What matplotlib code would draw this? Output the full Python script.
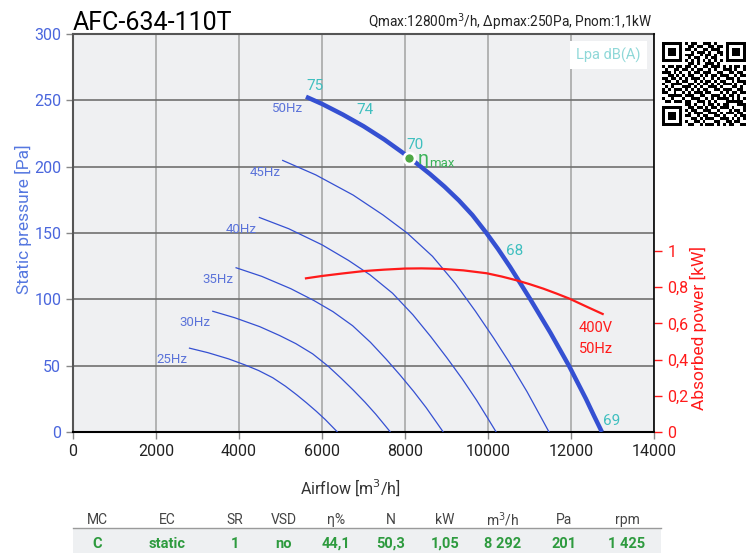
import numpy as np
import matplotlib
matplotlib.use('Agg')
import matplotlib.pyplot as plt
from matplotlib import font_manager

# fuente: Roboto si existe
nombres = {f.name for f in font_manager.fontManager.ttflist}
fuente = 'Roboto' if 'Roboto' in nombres else 'DejaVu Sans'
plt.rcParams['font.family'] = [fuente, 'DejaVu Sans']

# Curvas de presion estatica por frecuencia [m3/h], [Pa]
q50 = [5614, 6000, 6500, 7000, 7500, 8000, 8300, 8600, 8950, 9300, 9625, 9950,
       10240, 10530, 10775, 11020, 11260, 11500, 11725, 11950, 12155, 12360, 12550, 12745]
p50 = [252.7, 247.3, 239.3, 230.5, 220.5, 209.3, 202, 194.5, 185, 174.5, 163.5, 150.5,
       138, 124.5, 112.3, 100, 87.5, 75, 62.5, 50, 37.5, 25, 12.5, 0]
q45 = [5053, 5850, 6750, 7470, 8055, 8663, 9216, 9698, 10134, 10553, 10940, 11295, 11470]
p45 = [204.7, 193.8, 178.6, 163.6, 149.9, 132.4, 111.8, 91, 70.9, 50.6, 30.4, 10.1, 0]
q40 = [4491, 5200, 6000, 6640, 7160, 7700, 8192, 8620, 9008, 9380, 9724, 10040, 10196]
p40 = [161.7, 153.2, 141.1, 129.3, 118.4, 104.6, 88.3, 71.9, 56, 40, 24, 8, 0]
q35 = [3930, 4550, 5250, 5810, 6265, 6738, 7168, 7543, 7882, 8208, 8509, 8785, 8921]
p35 = [123.8, 117.3, 108, 99, 90.7, 80.1, 67.6, 55, 42.9, 30.6, 18.4, 6.1, 0]
q30 = [3368, 3900, 4500, 4980, 5370, 5775, 6144, 6465, 6756, 7035, 7293, 7530, 7647]
p30 = [91, 86.1, 79.4, 72.7, 66.6, 58.9, 49.7, 40.4, 31.5, 22.5, 13.5, 4.5, 0]
q25 = [2807, 3250, 3750, 4150, 4475, 4813, 5120, 5388, 5630, 5863, 6078, 6275, 6372]
p25 = [63.2, 59.8, 55.1, 50.5, 46.3, 40.9, 34.5, 28.1, 21.9, 15.6, 9.4, 3.1, 0]
curvas = [(q45, p45), (q40, p40), (q35, p35), (q30, p30), (q25, p25)]

# Posicion de las etiquetas de frecuencia
hz_q = [5181, 4634, 4048, 3494, 2940, 2386]
hz_p = [243.5, 195.6, 153, 114.6, 82.5, 54.3]
hz_txt = ['50Hz', '45Hz', '40Hz', '35Hz', '30Hz', '25Hz']

# Potencia absorbida [kW]
q_pot = [5614, 6000, 6500, 7000, 7500, 8000, 8400, 8843, 9405, 9968, 10330, 10690,
         11000, 11333, 11650, 11960, 12400, 12763]
pot = [0.849, 0.862, 0.876, 0.889, 0.897, 0.903, 0.904, 0.902, 0.893, 0.877, 0.859, 0.838,
       0.817, 0.792, 0.765, 0.737, 0.69, 0.652]

# Nivel sonoro Lpa
lpa_q = [5831, 7036, 8253, 10643, 12988]
lpa_p = [260.8, 242.7, 216.7, 136.4, 8.3]
lpa_txt = ['75', '74', '70', '68', '69']

# Punto de maxima eficiencia
eta_q, eta_p = 8104, 206.5

# Tabla inferior
cab = ['MC', 'EC', 'SR', 'VSD', 'η%', 'N', 'kW', 'm$^3$/h', 'Pa', 'rpm']
val = ['C', 'static', '1', 'no', '44,1', '50,3', '1,05', '8 292', '201', '1 425']
col_x = [97, 167, 235, 284, 336, 391, 445, 503, 564, 627]

# QR (patron decorativo)
qr = [
    "11111110101100111010001111111",
    "10000010011011001101101000001",
    "10111010110100110111001011101",
    "10111010001011101001101011101",
    "10111010111001011010101011101",
    "10000010010110010110001000001",
    "11111110101010101010101111111",
    "00000000011010011101000000000",
    "10110110110100110111010101101",
    "01001101101011001010011101001",
    "11101010010110111001100110110",
    "00110101011001010110111001011",
    "11011010101110100101001110100",
    "01100101100101011010110010111",
    "10011110011010110101011101001",
    "01010001110101001110100011010",
    "10101110101010110011011100110",
    "11001001010111011000101011011",
    "00111110111001100111010110100",
    "10010001001110010101111010101",
    "01101110110011101010001111110",
    "00000000110100101101011000111",
    "11111110011011010110111010001",
    "10000010101100111001000101101",
    "10111010010111001110101110110",
    "10111010110010110011010001011",
    "10111010001101011100111010101",
    "10000010100110100011001101100",
    "11111110011001011101010110011",
]

AZUL = '#3550d2'
AZUL_T = '#5b73d9'
ROJO = '#ff1a1a'
TEAL = '#3fbfbf'
VERDE = '#2e9b3f'

fig = plt.figure(figsize=(7.55, 5.53), dpi=100)
W, H = 755, 553
ax = fig.add_axes([73 / W, 1 - 432 / H, (654 - 73) / W, (432 - 34) / H])
ax.set_facecolor('#eff0f2')
ax.set_xlim(0, 14000)
ax.set_ylim(0, 300)
ax.set_xticks(np.arange(0, 14001, 2000))
ax.set_yticks(np.arange(0, 301, 50))
ax.xaxis.grid(True, color='#a8a8a8', lw=1.2)
ax.yaxis.grid(True, color='#707070', lw=1.2)
ax.set_axisbelow(True)
for s in ['top', 'left']:
    ax.spines[s].set_color('#555555')
    ax.spines[s].set_linewidth(1.5)
ax.spines['bottom'].set_color('black')
ax.spines['bottom'].set_linewidth(1.5)
ax.spines['right'].set_visible(False)
ax.tick_params(axis='y', colors='#888888', labelcolor='#4a66dd', labelsize=11.5,
               length=5, width=1)
ax.tick_params(axis='x', colors='#888888', labelcolor='#222222', labelsize=11.5,
               length=5, width=1)

ax.plot(q50, p50, color=AZUL, lw=3.2, solid_capstyle='butt', zorder=4)
for q, p in curvas:
    ax.plot(q, p, color=AZUL, lw=0.9, zorder=3)

for q, p, t in zip(hz_q, hz_p, hz_txt):
    ax.text(q, p, t, color=AZUL_T, fontsize=9.5, ha='center', va='center')
for q, p, t in zip(lpa_q, lpa_p, lpa_txt):
    ax.text(q, p, t, color=TEAL, fontsize=11, ha='center', va='center')

ax.plot([eta_q], [eta_p], 'o', ms=8, mfc='#4fa845', mec='white', mew=2, zorder=6)
ax.text(8310, 205.5, 'η', color='#3cb35a', fontsize=14, ha='left', va='center', zorder=6)
ax.text(8580, 202.5, 'max', color='#3cb35a', fontsize=9.5, ha='left', va='center', zorder=6)

# caja Lpa
ax.text(0.922, 0.947, 'Lpa dB(A)', transform=ax.transAxes, color='#8fd8d8',
        fontsize=10.5, ha='center', va='center',
        bbox=dict(boxstyle='square,pad=0.45', fc='white', ec='none'))

ax.set_ylabel('Static pressure [Pa]', color='#5577e0', fontsize=12.5)
ax.yaxis.set_label_coords(-0.07, 0.535)
ax.set_xlabel('Airflow [m$^3$/h]', color='#333333', fontsize=11.5)
ax.xaxis.set_label_coords(0.478, -0.115)

ax2 = ax.twinx()
ax2.set_ylim(0, 398 / 181)
ax2.set_yticks([0, 0.2, 0.4, 0.6, 0.8, 1.0])
ax2.set_yticklabels(['0', '0,2', '0,4', '0,6', '0,8', '1'])
ax2.tick_params(axis='y', colors=ROJO, labelcolor=ROJO, labelsize=11.5, length=6, width=1)
ax2.spines['right'].set_color('black')
ax2.spines['right'].set_linewidth(1.2)
for s in ['top', 'left', 'bottom']:
    ax2.spines[s].set_visible(False)
ax2.plot(q_pot, pot, color=ROJO, lw=1.6, zorder=5)
ax2.text(12600, 0.575, '400V', color=ROJO, fontsize=10.5, ha='center', va='center')
ax2.text(12600, 0.461, '50Hz', color=ROJO, fontsize=10.5, ha='center', va='center')
ax2.set_ylabel('Absorbed power [kW]', color=ROJO, fontsize=12.5)
ax2.yaxis.set_label_coords(1.062, 0.261)

# titulos
fig.text(73 / W, 1 - 30 / H, 'AFC-634-110T', fontsize=18, color='black',
         ha='left', va='baseline')
fig.text(652 / W, 1 - 27 / H, 'Qmax:12800m$^3$/h, Δpmax:250Pa, Pnom:1,1kW',
         fontsize=9.8, color='#222222', ha='right', va='baseline')

# QR
axq = fig.add_axes([662 / W, 1 - 126 / H, 84 / W, 84 / H])
matriz = np.array([[int(c) for c in fila[:29].ljust(29, '0')] for fila in qr])
axq.imshow(matriz, cmap='Greys', interpolation='nearest', vmin=0, vmax=1)
axq.axis('off')

# tabla
axt = fig.add_axes([0, 0, 1, 1], facecolor='none')
axt.set_xlim(0, W)
axt.set_ylim(H, 0)
axt.axis('off')
axt.add_patch(plt.Rectangle((73, 529), 588, 24, fc='#eef0f2', ec='none'))
axt.plot([73, 661], [528, 528], color='#9a9a9a', lw=1)
for x, c, v in zip(col_x, cab, val):
    axt.text(x, 520, c, ha='center', va='center', fontsize=10, color='#444444')
    axt.text(x, 544, v, ha='center', va='center', fontsize=10.5, color=VERDE,
             fontweight='bold')

fig.savefig('out.png', dpi=100)
